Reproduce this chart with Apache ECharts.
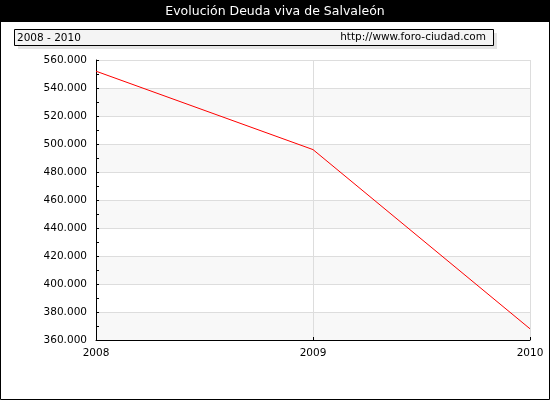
<!DOCTYPE html>
<html>
<head>
<meta charset="utf-8">
<script src="https://cdn.jsdelivr.net/npm/echarts@6/dist/echarts.min.js"></script>
<style>
  html, body { margin: 0; padding: 0; background: #fff; }
  #main { width: 550px; height: 400px; }
</style>
</head>
<body>
<div id="main"></div>
<script>
var years = ['2008', '2009', '2010'];
var deuda = [552000, 496000, 368000];
var titulo = 'Evolución Deuda viva de Salvaleón';
var periodo = '2008 - 2010';
var fuente = 'http://www.foro-ciudad.com';

function miles(v) {
    return String(v).replace(/\B(?=(\d{3})+(?!\d))/g, '.');
}

chart01();

function chart01() {
    var myChart = echarts.init(document.getElementById('main'));
    var option = {
        animation: false,
        backgroundColor: '#fff',
        textStyle: { fontFamily: 'DejaVu Sans' },
        graphic: [
            { type: 'rect', shape: { x: 0.5, y: 0.5, width: 549, height: 399 }, style: { fill: null, stroke: '#000', lineWidth: 1 }, z: 100 },
            { type: 'rect', shape: { x: 0, y: 0, width: 550, height: 22 }, style: { fill: '#000' } },
            { type: 'text', x: 275, y: 12, style: { text: titulo, fill: '#fff', font: '12.5px DejaVu Sans', align: 'center', verticalAlign: 'middle' } },
            { type: 'rect', shape: { x: 18, y: 33, width: 479, height: 16 }, style: { fill: '#e4e4e4' } },
            { type: 'rect', shape: { x: 14.5, y: 29.5, width: 479, height: 16 }, style: { fill: '#f4f4f4', stroke: '#000', lineWidth: 1 } },
            { type: 'text', x: 17, y: 38, style: { text: periodo, fill: '#000', font: '10.5px DejaVu Sans', verticalAlign: 'middle' } },
            { type: 'text', x: 486, y: 37, style: { text: fuente, fill: '#000', font: '10.5px DejaVu Sans', align: 'right', verticalAlign: 'middle' } }
        ],
        grid: { left: 96, right: 20, top: 60, bottom: 60 },
        xAxis: {
            type: 'category',
            data: years,
            boundaryGap: false,
            axisLine: { lineStyle: { color: '#000' } },
            axisTick: { inside: true, length: 3, lineStyle: { color: '#000' } },
            axisLabel: { color: '#000', fontSize: 10.5, margin: 8 },
            splitLine: { show: true, lineStyle: { color: '#dddddd' } }
        },
        yAxis: {
            type: 'value',
            min: 360000,
            max: 560000,
            interval: 20000,
            axisLine: { show: true, lineStyle: { color: '#000' } },
            axisTick: { show: true, inside: true, length: 3, lineStyle: { color: '#000' } },
            minorTick: { show: true, splitNumber: 2, length: 3, lineStyle: { color: '#000' } },
            axisLabel: { color: '#000', fontSize: 10.5, margin: 9, formatter: miles },
            splitLine: { lineStyle: { color: '#dddddd' } },
            splitArea: { show: true, areaStyle: { color: ['#f8f8f8', '#ffffff'] } }
        },
        series: [{
            name: 'Deuda viva',
            type: 'line',
            data: deuda,
            symbol: 'none',
            lineStyle: { color: '#ff0000', width: 1 }
        }]
    };
    myChart.setOption(option);
}
</script>
</body>
</html>
